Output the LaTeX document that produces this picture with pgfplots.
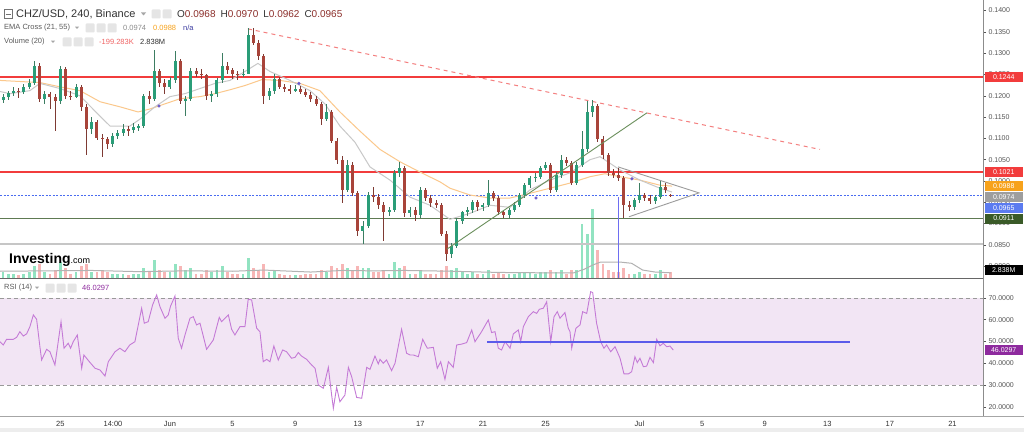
\documentclass[border=0pt]{standalone}
\usepackage{fontspec}
\setmainfont{Liberation Sans}
\usepackage{pgfplots}
\usepackage{pgfplotstable}
\pgfplotsset{compat=1.18}
\definecolor{up}{HTML}{2A9D78}
\definecolor{upw}{HTML}{3C7D62}
\definecolor{dn}{HTML}{A8443A}
\definecolor{dnw}{HTML}{7E3A33}
\definecolor{vup}{HTML}{92E3C1}
\definecolor{vdn}{HTML}{F7B6B6}
\definecolor{ema21}{HTML}{C8C8C8}
\definecolor{ema55}{HTML}{FBC88C}
\definecolor{lred}{HTML}{F23C3C}
\definecolor{dred}{HTML}{F47F7F}
\definecolor{lblue}{HTML}{4A6CF0}
\definecolor{lgreen}{HTML}{5E7A52}
\definecolor{lgray}{HTML}{C6C6C6}
\definecolor{trend}{HTML}{6B8F5C}
\definecolor{tri}{HTML}{9C9C9C}
\definecolor{vline}{HTML}{6E6EF2}
\definecolor{rsiline}{HTML}{C47AD6}
\definecolor{rsiband}{HTML}{F2E5F4}
\definecolor{rsiblue}{HTML}{5B5BEA}
\definecolor{txt}{HTML}{333333}
\definecolor{tickc}{HTML}{555555}
\definecolor{ohlc}{HTML}{8C2F2B}
\definecolor{emaor}{HTML}{F7A21B}
\definecolor{navy}{HTML}{3B3BA0}
\definecolor{volred}{HTML}{F06565}
\definecolor{rsipur}{HTML}{8E2A9E}
\definecolor{boxgray}{HTML}{9E9E9E}
\definecolor{boxblue}{HTML}{5B7BF0}
\definecolor{boxgreen}{HTML}{3A5A28}
\definecolor{crossmk}{HTML}{6A5ACD}

\pgfplotstableread{
d o h l c v
-10.667 0.1190 0.1205 0.1183 0.1198 3
-10.333 0.1198 0.1212 0.1190 0.1207 2
-10.000 0.1207 0.1220 0.1200 0.1212 2
-9.667 0.1212 0.1218 0.1195 0.1210 1.5
-9.333 0.1210 0.1228 0.1204 0.1221 2
-9.000 0.1221 0.1240 0.1215 0.1231 3
-8.667 0.1231 0.1281 0.1225 0.1269 6
-8.333 0.1269 0.1276 0.1185 0.1193 7
-8.000 0.1193 0.1212 0.1180 0.1205 3
-7.667 0.1205 0.1210 0.1170 0.1198 2
-7.333 0.1198 0.1204 0.1117 0.1188 4
-7.000 0.1188 0.1270 0.1180 0.1264 8
-6.667 0.1264 0.1268 0.1192 0.1200 5
-6.333 0.1200 0.1212 0.1190 0.1198 2
-6.000 0.1198 0.1228 0.1194 0.1221 3
-5.667 0.1221 0.1226 0.1165 0.1174 6
-5.333 0.1174 0.1180 0.1062 0.1121 7
-5.000 0.1121 0.1150 0.1110 0.1138 3
-4.667 0.1138 0.1142 0.1095 0.1102 3
-4.333 0.1102 0.1110 0.1057 0.1098 4
-4.000 0.1098 0.1104 0.1074 0.1086 3
-3.667 0.1086 0.1112 0.1080 0.1105 2
-3.333 0.1105 0.1120 0.1098 0.1112 2
-3.000 0.1112 0.1133 0.1105 0.1121 2
-2.667 0.1121 0.1128 0.1105 0.1119 1.5
-2.333 0.1119 0.1135 0.1112 0.1126 2
-2.000 0.1126 0.1133 0.1118 0.1129 2
-1.667 0.1129 0.1205 0.1124 0.1200 5
-1.333 0.1200 0.1212 0.1180 0.1193 3
-1.000 0.1193 0.1307 0.1188 0.1257 9
-0.667 0.1257 0.1262 0.1220 0.1231 4
-0.333 0.1231 0.1240 0.1205 0.1221 3
0.000 0.1221 0.1245 0.1215 0.1236 3
0.333 0.1236 0.1305 0.1230 0.1281 7
0.667 0.1281 0.1287 0.1180 0.1188 6
1.000 0.1188 0.1200 0.1152 0.1193 4
1.333 0.1193 0.1266 0.1188 0.1257 5
1.667 0.1257 0.1265 0.1245 0.1252 2
2.000 0.1252 0.1262 0.1240 0.1248 2
2.333 0.1248 0.1252 0.1190 0.1200 4
2.667 0.1200 0.1212 0.1185 0.1203 3
3.000 0.1203 0.1242 0.1198 0.1236 4
3.333 0.1236 0.1300 0.1230 0.1269 6
3.667 0.1269 0.1280 0.1252 0.1260 3
4.000 0.1260 0.1266 0.1240 0.1252 2
4.333 0.1252 0.1258 0.1238 0.1248 2
4.667 0.1248 0.1262 0.1243 0.1252 2
5.000 0.1252 0.1360 0.1250 0.1343 10
5.333 0.1343 0.1358 0.1318 0.1324 5
5.667 0.1324 0.1330 0.1285 0.1293 4
6.000 0.1293 0.1298 0.1181 0.1200 7
6.333 0.1200 0.1218 0.1190 0.1212 3
6.667 0.1212 0.1250 0.1205 0.1240 4
7.000 0.1240 0.1245 0.1215 0.1221 2
7.333 0.1221 0.1228 0.1210 0.1217 1.5
7.667 0.1217 0.1225 0.1205 0.1212 1.5
8.000 0.1212 0.1226 0.1208 0.1217 1.5
8.333 0.1217 0.1222 0.1203 0.1210 1.5
8.667 0.1210 0.1216 0.1196 0.1202 2
9.000 0.1202 0.1208 0.1185 0.1193 2
9.333 0.1193 0.1200 0.1175 0.1181 2
9.667 0.1181 0.1186 0.1131 0.1145 4
10.000 0.1145 0.1181 0.1140 0.1162 3
10.333 0.1162 0.1166 0.1088 0.1093 6
10.667 0.1093 0.1100 0.1040 0.1050 5
11.000 0.1050 0.1058 0.0948 0.0979 7
11.333 0.0979 0.1050 0.0975 0.1038 5
11.667 0.1038 0.1045 0.0965 0.0971 4
12.000 0.0971 0.0976 0.0871 0.0883 6
12.333 0.0883 0.0905 0.0852 0.0895 5
12.667 0.0895 0.0975 0.0890 0.0967 5
13.000 0.0967 0.0985 0.0950 0.0962 3
13.333 0.0962 0.0970 0.0935 0.0943 3
13.667 0.0943 0.0950 0.0860 0.0926 4
14.000 0.0926 0.0940 0.0918 0.0931 2
14.333 0.0931 0.1025 0.0926 0.1019 8
14.667 0.1019 0.1045 0.1010 0.1031 5
15.000 0.1031 0.1035 0.0915 0.0924 6
15.333 0.0924 0.0940 0.0915 0.0931 2
15.667 0.0931 0.0938 0.0905 0.0919 2
16.000 0.0919 0.0985 0.0912 0.0979 4
16.333 0.0979 0.0984 0.0952 0.0960 2
16.667 0.0960 0.0966 0.0940 0.0948 2
17.000 0.0948 0.0955 0.0936 0.0943 2
17.333 0.0943 0.0948 0.0870 0.0876 4
17.667 0.0876 0.0882 0.0812 0.0829 6
18.000 0.0829 0.0855 0.0820 0.0848 4
18.333 0.0848 0.0912 0.0842 0.0907 5
18.667 0.0907 0.0930 0.0900 0.0926 3
19.000 0.0926 0.0940 0.0918 0.0931 2
19.333 0.0931 0.0956 0.0925 0.0950 3
19.667 0.0950 0.0955 0.0930 0.0938 2
20.000 0.0938 0.0948 0.0930 0.0943 2
20.333 0.0943 0.1002 0.0938 0.0971 4
20.667 0.0971 0.0976 0.0952 0.0960 2
21.000 0.0960 0.0965 0.0920 0.0926 3
21.333 0.0926 0.0932 0.0912 0.0919 2
21.667 0.0919 0.0936 0.0914 0.0931 2
22.000 0.0931 0.0950 0.0926 0.0943 2
22.333 0.0943 0.0972 0.0938 0.0967 3
22.667 0.0967 0.0995 0.0960 0.0990 3
23.000 0.0990 0.1012 0.0984 0.1007 3
23.333 0.1007 0.1018 0.0998 0.1010 2
23.667 0.1010 0.1036 0.1004 0.1031 3
24.000 0.1031 0.1045 0.1025 0.1038 3
24.333 0.1038 0.1042 0.0972 0.0979 4
24.667 0.0979 0.1020 0.0974 0.1014 3
25.000 0.1014 0.1062 0.1008 0.1050 4
25.333 0.1050 0.1056 0.1036 0.1043 2
25.667 0.1043 0.1048 0.0990 0.0995 4
26.000 0.0995 0.1044 0.0990 0.1038 4
26.333 0.1038 0.1117 0.1032 0.1074 27
26.667 0.1074 0.1188 0.1068 0.1162 22
27.000 0.1162 0.1190 0.1150 0.1176 35
27.333 0.1176 0.1180 0.1092 0.1098 14
27.667 0.1098 0.1105 0.1052 0.1060 7
28.000 0.1060 0.1066 0.1012 0.1019 4
28.333 0.1019 0.1028 0.1006 0.1014 3
28.667 0.1014 0.1031 0.1000 0.1007 3
29.000 0.1007 0.1012 0.0914 0.0943 5
29.333 0.0943 0.0952 0.0930 0.0938 2
29.667 0.0938 0.0960 0.0932 0.0955 2
30.000 0.0955 0.0995 0.0948 0.0967 3
30.333 0.0967 0.0972 0.0952 0.0960 2
30.667 0.0960 0.0966 0.0945 0.0952 2
31.000 0.0952 0.0968 0.0946 0.0962 2
31.333 0.0962 0.1002 0.0958 0.0986 4
31.667 0.0986 0.0995 0.0972 0.0979 2
32.000 0.0968 0.0970 0.0962 0.0965 2.8
}\candles

\pgfplotstableread{
d p
-10.86 0.1210
-10.22 0.1205
-8.95 0.1212
-8.31 0.1229
-7.03 0.1217
-5.75 0.1200
-4.47 0.1152
-3.83 0.1129
-2.56 0.1129
-1.92 0.1145
-0.96 0.1174
0.00 0.1198
0.96 0.1205
1.92 0.1217
2.88 0.1229
3.83 0.1236
4.79 0.1257
5.62 0.1276
6.39 0.1257
7.67 0.1236
8.95 0.1212
9.90 0.1181
10.86 0.1129
11.82 0.1091
12.78 0.1033
14.06 0.1002
15.34 0.0962
16.61 0.0943
17.89 0.0910
19.17 0.0924
20.45 0.0943
21.73 0.0938
23.00 0.0979
24.28 0.1002
25.56 0.1019
26.84 0.1050
27.48 0.1057
28.75 0.1026
30.03 0.1002
31.31 0.0983
32.08 0.0974
}\emaA

\pgfplotstableread{
d p
-10.86 0.1236
-8.31 0.1231
-7.03 0.1221
-5.75 0.1212
-4.47 0.1186
-3.19 0.1174
-2.04 0.1162
-1.28 0.1169
-0.32 0.1181
0.64 0.1193
1.92 0.1198
2.88 0.1205
3.83 0.1214
4.79 0.1224
5.88 0.1238
7.03 0.1236
8.31 0.1229
9.58 0.1212
10.86 0.1162
12.14 0.1117
13.42 0.1074
14.70 0.1045
15.97 0.1021
17.25 0.0998
17.89 0.0983
19.17 0.0967
20.45 0.0960
21.73 0.0960
23.00 0.0971
24.28 0.0983
25.56 0.0995
26.84 0.1010
27.80 0.1017
28.75 0.1010
30.03 0.1002
31.31 0.0990
32.08 0.0988
}\emaB

\pgfplotstableread{
d v
-10.86 3.4
-8 3.6
-5 3.8
-2 3.2
1 3.6
4 3.4
6 4.0
9 3.0
11 3.8
13 3.6
15 3.8
18 3.4
21 2.8
24 2.6
25.8 2.6
26.5 4.5
27.0 6.5
27.5 8.0
28.8 8.0
29.5 7.4
30.2 4.0
31 3.0
32 2.6
}\volma

\pgfplotstableread{
d r
-10.86 49.9
-10.65 48.4
-10.44 51.0
-10.01 51.0
-9.80 51.9
-9.59 54.5
-9.37 52.5
-9.16 53.5
-8.95 56.8
-8.73 62.2
-8.52 60.2
-8.31 47.6
-8.20 41.5
-7.88 46.4
-7.67 45.3
-7.35 39.2
-6.96 59.1
-6.77 46.9
-6.50 49.2
-6.35 46.9
-6.18 49.9
-5.92 53.0
-5.64 37.7
-5.50 43.8
-5.15 40.7
-4.79 37.7
-4.47 36.9
-4.15 34.1
-3.94 40.7
-3.51 45.3
-3.20 46.9
-2.88 45.3
-2.57 48.4
-2.24 49.9
-1.81 65.3
-1.64 58.4
-1.39 59.1
-1.11 66.8
-0.85 71.4
-0.64 66.0
-0.32 60.7
-0.11 62.2
0.04 66.3
0.32 70.9
0.53 51.5
0.74 46.9
0.96 53.0
1.28 60.7
1.49 61.4
1.70 57.6
1.92 58.4
2.34 46.4
2.77 50.7
3.15 61.1
3.30 59.1
3.73 62.2
3.94 55.6
4.15 53.0
4.47 56.8
4.79 56.8
5.00 69.4
5.22 69.1
5.54 56.1
5.75 54.5
5.96 40.7
6.18 41.8
6.39 40.7
6.64 47.9
6.92 41.5
7.20 46.1
7.45 45.3
7.77 42.3
7.99 42.7
8.20 44.9
8.41 43.3
8.73 41.8
9.05 39.2
9.27 37.7
9.48 30.0
9.80 28.5
10.12 38.1
10.33 25.4
10.44 19.3
10.65 28.9
10.86 22.3
11.18 25.4
11.40 38.1
11.61 33.8
11.93 24.3
12.25 23.9
12.57 38.1
12.78 37.2
13.10 43.3
13.31 39.7
13.42 41.8
13.63 40.0
13.84 41.5
14.16 36.6
14.38 40.0
14.80 55.6
15.12 44.6
15.34 43.8
15.55 43.8
15.87 43.0
16.15 51.0
16.44 46.9
16.83 47.3
17.08 37.7
17.30 40.7
17.57 32.6
17.79 40.7
18.10 38.1
18.32 48.4
18.64 48.8
18.96 49.5
19.28 55.3
19.49 49.9
19.91 54.5
20.34 59.9
20.55 54.1
20.77 54.5
20.98 46.9
21.19 46.1
21.41 49.9
21.73 46.9
21.94 53.5
22.26 55.3
22.41 49.9
22.58 56.8
22.90 61.4
23.22 63.7
23.43 62.9
23.60 64.8
23.86 65.3
24.07 68.3
24.33 49.9
24.54 61.4
24.75 63.7
24.92 60.7
25.24 63.3
25.45 56.1
25.56 54.5
25.67 46.9
25.94 56.1
26.20 57.6
26.37 63.7
26.63 62.9
26.88 72.9
27.01 72.5
27.26 58.4
27.52 49.9
27.73 46.9
27.90 48.4
28.16 45.3
28.44 47.6
28.76 42.3
29.01 35.1
29.29 35.1
29.50 36.1
29.71 43.0
29.86 40.3
30.03 42.3
30.25 38.4
30.46 38.7
30.67 42.7
30.89 40.3
31.10 51.0
31.31 48.0
31.52 49.2
31.74 47.6
31.95 47.9
32.16 46.03
}\rsi

\pgfplotsset{
  upf/.style={x filter/.expression={\thisrow{c}>=\thisrow{o} ? x : nan}},
  dnf/.style={x filter/.expression={\thisrow{c}<\thisrow{o} ? x : nan}},
  candle/.style 2 args={draw=none, mark=none, forget plot,
    error bars/y dir=both, error bars/y explicit, error bars/error mark=none,
    error bars/error bar style={draw=#2, line width=#1}},
  panel/.style={scale only axis, anchor=south west, width=983pt,
    xmin=-10.86, xmax=51.95, axis line style={draw=none}},
}
\newcommand{\icon}[2]{\fill[black!10, rounded corners=1pt] (#1-4.5,#2-4.5) rectangle (#1+4.5,#2+4.5);}
\newcommand{\fs}[1]{\fontsize{#1}{#1}\selectfont}

\begin{document}
\begin{tikzpicture}
\useasboundingbox (0pt,0pt) rectangle (1024pt,432pt);
\fill[white] (0pt,0pt) rectangle (1024pt,432pt);
\fill[black!7] (0pt,0pt) rectangle (1024pt,4pt);

% RSI panel
\begin{axis}[panel, at={(0pt,16pt)}, height=135pt, ymin=15.75, ymax=77.8,
  ytick={20,30,40,50,60,70}, ytick pos=right, yticklabel pos=right,
  tick align=outside, major tick length=3pt,
  ytick style={tickc, line width=0.5pt},
  yticklabel style={font=\fs{7}, text=tickc, xshift=-1pt,
    /pgf/number format/.cd, fixed, fixed zerofill, precision=4, assume math mode=true},
  xtick={-7,-3.64,0,4,8,12,16,20,24,30,34,38,42,46,50},
  xticklabels={25,14:00,Jun,5,9,13,17,21,25,Jul,5,9,13,17,21},
  xtick pos=bottom, xtick style={draw=none},
  xticklabel style={font=\fs{7.5}, text=txt, yshift=1pt}]
\fill[rsiband] (axis cs:-10.86,30) rectangle (axis cs:51.95,70);
\draw[black!40, dash pattern=on 4pt off 3pt, line width=0.7pt] (axis cs:-10.86,70) -- (axis cs:51.95,70);
\draw[black!40, dash pattern=on 4pt off 3pt, line width=0.7pt] (axis cs:-10.86,30) -- (axis cs:51.95,30);
\addplot[draw=rsiline, line width=0.9pt] table[x=d,y=r]{\rsi};
\addplot[draw=rsiblue, line width=1.2pt] coordinates {(20.26,49.8) (43.45,49.8)};
\coordinate (rb) at (axis cs:51.95,46.03);
\end{axis}

% volume overlay
\begin{axis}[panel, at={(0pt,154pt)}, height=278pt, ymin=0, ymax=140, hide axis]
\addplot[ycomb, draw=vup, line width=2.8pt, upf] table[x=d,y=v]{\candles};
\addplot[ycomb, draw=vdn, line width=2.8pt, dnf] table[x=d,y=v]{\candles};
\addplot[draw=black!30, line width=1pt] table[x=d,y=v]{\volma};
\end{axis}

% price panel
\begin{axis}[panel, at={(0pt,154pt)}, height=278pt,
  ymin=0.07722, ymax=0.14248, xtick=\empty,
  ytick={0.08,0.085,0.09,0.095,0.1,0.105,0.11,0.115,0.12,0.125,0.13,0.135,0.14},
  ytick pos=right, yticklabel pos=right, tick align=outside,
  major tick length=3pt, ytick style={tickc, line width=0.5pt},
  scaled y ticks=false,
  yticklabel style={font=\fs{7}, text=tickc, xshift=-1pt,
    /pgf/number format/.cd, fixed, fixed zerofill, precision=4, assume math mode=true}]
\addplot[draw=lred, line width=1.1pt] coordinates {(-10.86,0.1244) (51.95,0.1244)};
\addplot[draw=lred, line width=1.1pt] coordinates {(-10.86,0.1021) (51.95,0.1021)};
\addplot[draw=lblue, dash pattern=on 2pt off 1.5pt, line width=1pt] coordinates {(-10.86,0.0965) (51.95,0.0965)};
\addplot[draw=lgreen, line width=1.1pt] coordinates {(-10.86,0.0911) (51.95,0.0911)};
\addplot[draw=lgray, line width=1.1pt] coordinates {(-10.86,0.0852) (51.95,0.0852)};
\addplot[draw=dred, dash pattern=on 4pt off 4pt, line width=1pt] coordinates {(4.98,0.1357) (41.53,0.1074)};
\addplot[draw=ema55, line width=1pt] table[x=d,y=p]{\emaB};
\addplot[draw=ema21, line width=1pt] table[x=d,y=p]{\emaA};
% wicks
\addplot[upf, candle={0.8pt}{upw}] table[x=d, y expr={(\thisrow{h}+\thisrow{l})/2}, y error expr={(\thisrow{h}-\thisrow{l})/2}]{\candles};
\addplot[dnf, candle={0.8pt}{dnw}] table[x=d, y expr={(\thisrow{h}+\thisrow{l})/2}, y error expr={(\thisrow{h}-\thisrow{l})/2}]{\candles};
% bodies
\addplot[upf, candle={3pt}{up}] table[x=d, y expr={(\thisrow{o}+\thisrow{c})/2}, y error expr={max(abs(\thisrow{c}-\thisrow{o})/2,0.00006)}]{\candles};
\addplot[dnf, candle={3pt}{dn}] table[x=d, y expr={(\thisrow{o}+\thisrow{c})/2}, y error expr={max(abs(\thisrow{c}-\thisrow{o})/2,0.00006)}]{\candles};
\addplot[draw=trend, line width=0.9pt] coordinates {(17.70,0.0840) (30.48,0.1160)};
\addplot[draw=tri, line width=0.9pt] coordinates {(28.63,0.1033) (33.80,0.0972) (29.33,0.0916)};
\addplot[draw=vline, line width=1pt] coordinates {(28.69,0.0962) (28.69,0.0772)};
\addplot[only marks, mark=*, mark size=1.4pt, color=crossmk] coordinates {(-0.70,0.1176) (8.24,0.1229) (23.39,0.0960) (29.52,0.1005)};
\coordinate (b1) at (axis cs:51.95,0.1244);
\coordinate (b2) at (axis cs:51.95,0.1021);
\coordinate (b3) at (axis cs:51.95,0.09881);
\coordinate (b4) at (axis cs:51.95,0.09623);
\coordinate (b5) at (axis cs:51.95,0.09365);
\coordinate (b6) at (axis cs:51.95,0.09118);
\coordinate (b7) at (axis cs:51.95,0.07910);
\end{axis}

\begin{scope}[x=1pt,y=1pt]
% frame lines
\draw[black!45, line width=0.8pt] (983,16) -- (983,432);
\draw[black!60, line width=1pt] (0,154) -- (983,154);
\draw[black!35, line width=0.8pt] (0,16) -- (1024,16);

% right value boxes
\begin{scope}[every node/.style={font=\fs{7}, text=white, inner sep=0pt, minimum width=38pt, minimum height=10pt, anchor=west}]
\node[fill=lred] at ([xshift=1.5pt]b1) {0.1244};
\node[fill=lred] at ([xshift=1.5pt]b2) {0.1021};
\node[fill=emaor] at ([xshift=1.5pt]b3) {0.0988};
\node[fill=boxgray] at ([xshift=1.5pt]b4) {0.0974};
\node[fill=boxblue] at ([xshift=1.5pt]b5) {0.0965};
\node[fill=boxgreen] at ([xshift=1.5pt]b6) {0.0911};
\node[fill=black] at ([xshift=1.5pt]b7) {2.838M};
\node[fill=rsipur] at ([xshift=1.5pt]rb) {46.0297};
\end{scope}

% header texts
\draw[black!55, line width=0.6pt] (4,413.5) rectangle (12,422.5);
\draw[black!55, line width=0.6pt] (5.5,418) -- (10.5,418);
\node[anchor=west, inner sep=0pt, font=\fs{11}, text=txt] at (16,418) {CHZ/USD, 240, Binance};
\fill[black!35] (141,419.5) -- (146,419.5) -- (143.5,416.5) -- cycle;
\icon{156}{418}\icon{167}{418}
\node[anchor=west, inner sep=0pt, font=\fs{10}] at (177,418)
  {\textcolor{txt}{O}\textcolor{ohlc}{0.0968}\hspace{5pt}\textcolor{txt}{H}\textcolor{ohlc}{0.0970}\hspace{5pt}\textcolor{txt}{L}\textcolor{ohlc}{0.0962}\hspace{5pt}\textcolor{txt}{C}\textcolor{ohlc}{0.0965}};

\node[anchor=west, inner sep=0pt, font=\fs{7.5}, text=txt!80] at (4,404) {EMA Cross (21, 55)};
\fill[black!35] (75,405.3) -- (79,405.3) -- (77,403) -- cycle;
\icon{90}{404}\icon{101}{404}\icon{112}{404}
\node[anchor=west, inner sep=0pt, font=\fs{7.5}, text=black!45] at (123,404) {0.0974};
\node[anchor=west, inner sep=0pt, font=\fs{7.5}, text=emaor] at (153,404) {0.0988};
\node[anchor=west, inner sep=0pt, font=\fs{7.5}, text=navy] at (183,404) {n/a};

\node[anchor=west, inner sep=0pt, font=\fs{7.5}, text=txt!80] at (4,390) {Volume (20)};
\fill[black!35] (51,391.3) -- (55,391.3) -- (53,389) -- cycle;
\icon{67}{390}\icon{78}{390}\icon{89}{390}
\node[anchor=west, inner sep=0pt, font=\fs{7.5}, text=volred] at (99,390) {-199.283K};
\node[anchor=west, inner sep=0pt, font=\fs{7.5}, text=txt] at (140,390) {2.838M};

\node[anchor=west, inner sep=0pt, font=\fs{7.5}, text=txt!80] at (4,144) {RSI (14)};
\fill[black!35] (35,145.3) -- (39,145.3) -- (37,143) -- cycle;
\icon{50}{144}\icon{61}{144}\icon{72}{144}
\node[anchor=west, inner sep=0pt, font=\fs{7.5}, text=rsipur] at (82,144) {46.0297};

\node[anchor=west, inner sep=0pt] at (9,172) {\fs{14}\textbf{Investing}\fs{9}.com};
\end{scope}
\end{tikzpicture}
\end{document}
